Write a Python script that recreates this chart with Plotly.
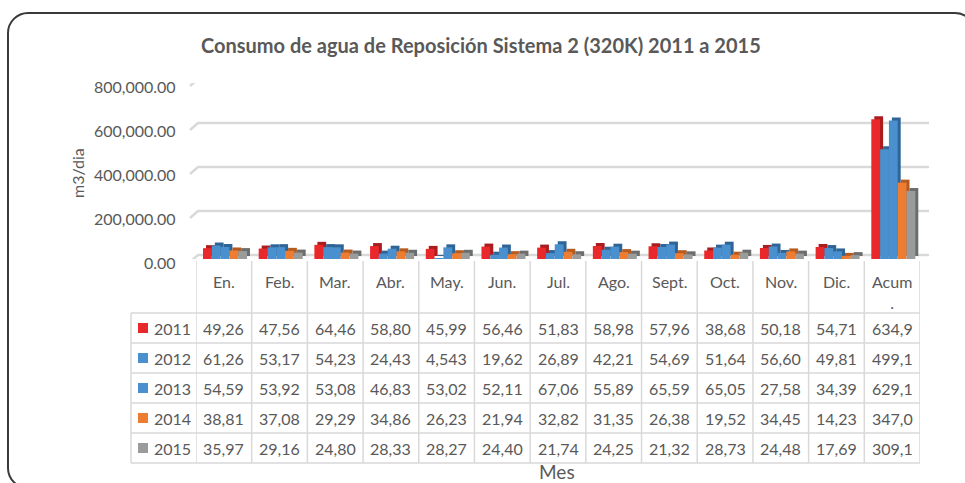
import plotly.graph_objects as go

# ---------------- data ----------------
TITLE = "Consumo de agua de Reposición Sistema 2 (320K) 2011 a 2015"
CATEGORIES = ["En.", "Feb.", "Mar.", "Abr.", "May.", "Jun.", "Jul.", "Ago.",
              "Sept.", "Oct.", "Nov.", "Dic.", "Acum<br>."]
SERIES_NAMES = ["2011", "2012", "2013", "2014", "2015"]
V2011 = [49265, 47565, 64465, 58805, 45995, 56465, 51835, 58985, 57965, 38685, 50185, 54715, 634950]
V2012 = [61265, 53175, 54235, 24435, 4543, 19625, 26895, 42215, 54695, 51645, 56605, 49815, 499150]
V2013 = [54595, 53925, 53085, 46835, 53025, 52115, 67065, 55895, 65595, 65055, 27585, 34395, 629150]
V2014 = [38815, 37085, 29295, 34865, 26235, 21945, 32825, 31355, 26385, 19525, 34455, 14235, 347050]
V2015 = [35975, 29165, 24805, 28335, 28275, 24405, 21745, 24255, 21325, 28735, 24485, 17695, 309150]
SERIES_VALUES = [V2011, V2012, V2013, V2014, V2015]
Y_TICKS = [0, 200000, 400000, 600000, 800000]
Y_TITLE = "m3/dia"
X_TITLE = "Mes"

# ---------------- style ----------------
W, H = 965, 483
FONT = "Lato"
TXT = "#595959"
GRID = "#d9d9d9"
COLORS = ["#E9282B", "#4A90CE", "#4A90CE", "#EE7D31", "#9A9C9C"]
SIDES = ["#A91D1F", "#2F6596", "#2F6596", "#B55B1F", "#6C6E6E"]

PLOT_L, PLOT_R = 196, 920          # category band (px)
Y0_PX, YTOP_PX = 259, 83           # front plane: value 0 and 800k
YMAX = 800000
NCAT = len(CATEGORIES)
COL_W = (PLOT_R - PLOT_L) / NCAT
PX_PER_UNIT = (Y0_PX - YTOP_PX) / YMAX
BAR_W_PX = 8.8
BAR_START_PX = 203 - (PLOT_L + COL_W / 2)
DEPTH_PX = 3


def fx(px):
    return px / W


def fy(py):
    return 1 - py / H


fig = go.Figure()

bw = BAR_W_PX / COL_W
# 3D side/top faces (drawn first)
for k, (name, vals) in enumerate(zip(SERIES_NAMES, SERIES_VALUES)):
    off = BAR_START_PX / COL_W + k * bw
    fig.add_trace(go.Bar(
        x=list(range(NCAT)), y=vals, base=DEPTH_PX / PX_PER_UNIT,
        offset=off + DEPTH_PX / COL_W, width=bw,
        marker=dict(color=SIDES[k], line=dict(width=0)),
        hoverinfo="skip", showlegend=False))
# front faces
for k, (name, vals) in enumerate(zip(SERIES_NAMES, SERIES_VALUES)):
    off = BAR_START_PX / COL_W + k * bw
    fig.add_trace(go.Bar(
        x=list(range(NCAT)), y=vals, name=name,
        offset=off, width=bw,
        marker=dict(color=COLORS[k], line=dict(width=0)),
        showlegend=False))

shapes = []
annotations = []

# gridlines with perspective slant, anchored to tick values
for t in Y_TICKS:
    shapes.append(dict(
        type="path", layer="below",
        xref="paper", xsizemode="pixel", xanchor=0,
        yref="y", ysizemode="pixel", yanchor=t,
        path="M190,-3 L198,4 L929,4",
        line=dict(color=GRID, width=2.5)))
    annotations.append(dict(
        x=fx(178), xref="paper", xanchor="right",
        y=t, yref="y", yanchor="middle", yshift=-3,
        text=f"{t:,.2f}", showarrow=False,
        font=dict(family=FONT, size=16, color=TXT)))

# data table
TABLE_L = 131
HEAD_TOP = 259
ROW_TOP = 313
ROW_H = 30
n_rows = len(SERIES_NAMES)
table_bottom = ROW_TOP + ROW_H * n_rows
for k in range(NCAT + 1):
    shapes.append(dict(type="line", xref="x", yref="paper",
                       x0=k - 0.5, x1=k - 0.5, y0=fy(HEAD_TOP + 2), y1=fy(table_bottom),
                       line=dict(color=GRID, width=1.5)))
shapes.append(dict(type="line", xref="paper", yref="paper",
                   x0=fx(TABLE_L), x1=fx(TABLE_L), y0=fy(ROW_TOP), y1=fy(table_bottom),
                   line=dict(color=GRID, width=1.5)))
for r in range(n_rows + 1):
    yy = fy(ROW_TOP + r * ROW_H)
    shapes.append(dict(type="line", xref="paper", yref="paper",
                       x0=fx(TABLE_L), x1=fx(PLOT_R), y0=yy, y1=yy,
                       line=dict(color=GRID, width=1.5)))

for i, c in enumerate(CATEGORIES):
    annotations.append(dict(x=i, xref="x", xanchor="center",
                            y=fy(270), yref="paper", yanchor="top",
                            text=c, showarrow=False,
                            font=dict(family=FONT, size=16, color=TXT)))

for r, (name, vals) in enumerate(zip(SERIES_NAMES, SERIES_VALUES)):
    cy = ROW_TOP + r * ROW_H + ROW_H / 2
    shapes.append(dict(type="rect", xref="paper", yref="paper",
                       x0=fx(138), x1=fx(148), y0=fy(cy - 5), y1=fy(cy + 5),
                       fillcolor=COLORS[r], line=dict(width=0)))
    annotations.append(dict(x=fx(152), xref="paper", xanchor="left",
                            y=fy(cy), yref="paper", yanchor="middle",
                            text=name, showarrow=False,
                            font=dict(family=FONT, size=16, color=TXT)))
    for i, v in enumerate(vals):
        annotations.append(dict(x=i, xref="x", xanchor="center",
                                y=fy(cy), yref="paper", yanchor="middle",
                                text=f"{v:,.2f}"[:5], showarrow=False,
                                font=dict(family=FONT, size=16, color=TXT)))

# titles
annotations.append(dict(x=fx(481), xref="paper", xanchor="center",
                        y=fy(45), yref="paper", yanchor="middle",
                        text=f"<b>{TITLE}</b>", showarrow=False,
                        font=dict(family=FONT, size=20, color=TXT)))
annotations.append(dict(x=fx(557), xref="paper", xanchor="center",
                        y=fy(471), yref="paper", yanchor="middle",
                        text=X_TITLE, showarrow=False,
                        font=dict(family=FONT, size=19, color=TXT)))
annotations.append(dict(x=fx(77), xref="paper", xanchor="center",
                        y=fy(173), yref="paper", yanchor="middle",
                        text=Y_TITLE, textangle=-90, showarrow=False,
                        font=dict(family=FONT, size=16, color=TXT)))

# chart border (rounded rectangle, partly outside the picture)
BL, BT, BR, BB, RAD = 8, 13, 975, 488, 20
KAP = 0.552 * RAD


def P(x, y):
    return f"{fx(x):.5f},{fy(y):.5f}"


border = (f"M{P(BL, BB - RAD)} L{P(BL, BT + RAD)} "
          f"C{P(BL, BT + RAD - KAP)} {P(BL + RAD - KAP, BT)} {P(BL + RAD, BT)} "
          f"L{P(BR - RAD, BT)} "
          f"C{P(BR - RAD + KAP, BT)} {P(BR, BT + RAD - KAP)} {P(BR, BT + RAD)} "
          f"L{P(BR, BB - RAD)} "
          f"C{P(BR, BB - RAD + KAP)} {P(BR - RAD + KAP, BB)} {P(BR - RAD, BB)} "
          f"L{P(BL + RAD, BB)} "
          f"C{P(BL + RAD - KAP, BB)} {P(BL, BB - RAD + KAP)} {P(BL, BB - RAD)} Z")
shapes.append(dict(type="path", xref="paper", yref="paper", path=border,
                   line=dict(color="#3a3a3a", width=2)))

fig.update_layout(
    width=W, height=H,
    margin=dict(l=0, r=0, t=0, b=0),
    paper_bgcolor="white", plot_bgcolor="rgba(0,0,0,0)",
    barmode="overlay",
    showlegend=False,
    xaxis=dict(domain=[fx(PLOT_L), fx(PLOT_R)], range=[-0.5, NCAT - 0.5],
               showticklabels=False, showgrid=False, zeroline=False, showline=False,
               fixedrange=True),
    yaxis=dict(domain=[fy(Y0_PX), fy(YTOP_PX)], range=[0, YMAX],
               showticklabels=False, showgrid=False, zeroline=False, showline=False,
               fixedrange=True),
    shapes=shapes,
    annotations=annotations,
    font=dict(family=FONT, color=TXT),
)

fig.write_html("out.html", config={"displayModeBar": False},
               post_script="document.body.style.margin='0';document.body.style.overflow='hidden';")
